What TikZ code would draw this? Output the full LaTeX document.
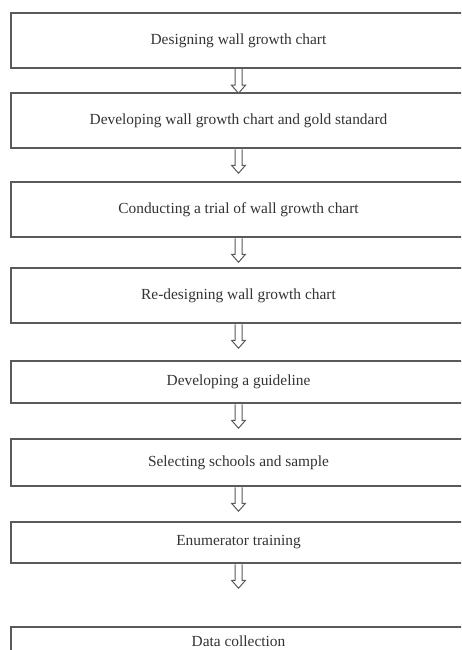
\documentclass[tikz,border=0pt]{standalone}
\usepackage{fontspec}
\setmainfont{Liberation Serif}
\usetikzlibrary{calc}
\definecolor{linegray}{HTML}{5A5A5A}
\definecolor{textgray}{HTML}{333333}
\begin{document}
\begin{tikzpicture}[x=1pt,y=-1pt,
  stepbox/.style={draw=linegray, line width=1.3pt, rectangle, minimum width=455pt,
    text=textgray, font=\fontsize{15.4}{17}\selectfont, inner sep=0pt},
  blk/.style={draw=linegray, line width=1pt, fill=white, line join=miter}]
\useasboundingbox (0,0) rectangle (461,650);
\clip (0,0) rectangle (461,650);
\fill[white] (0,0) rectangle (461,650);
\node[stepbox, minimum height=55pt] (b1) at (238.5,40.5) {Designing wall growth chart};
\node[stepbox, minimum height=55pt] (b2) at (238.5,120.5) {Developing wall growth chart and gold standard};
\node[stepbox, minimum height=55pt] (b3) at (238.5,209.5) {Conducting a trial of wall growth chart};
\node[stepbox, minimum height=55pt] (b4) at (238.5,295.5) {Re-designing wall growth chart};
\node[stepbox, minimum height=42pt] (b5) at (238.5,382) {Developing a guideline};
\node[stepbox, minimum height=47pt] (b6) at (238.5,462.5) {Selecting schools and sample};
\node[stepbox, minimum height=41pt] (b7) at (238.5,542.5) {Enumerator training};
\node[stepbox, minimum height=28pt] (b8) at (238.5,641) {Data collection};
\foreach \a in {b1,b2,b3,b4,b5,b6,b7}{
  \draw[blk] ($(\a.south)+(-3.5,0.6)$) -- ++(0,16) -- ++(-3.5,0) -- ++(7,8) -- ++(7,-8) -- ++(-3.5,0) -- ++(0,-16);
}
\end{tikzpicture}
\end{document}
